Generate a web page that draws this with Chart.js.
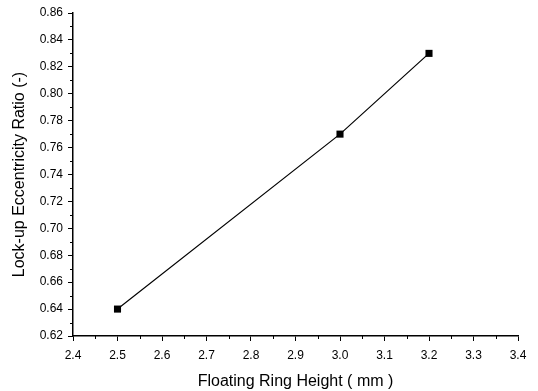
<!DOCTYPE html>
<html>
<head>
<meta charset="utf-8">
<script src="https://cdn.jsdelivr.net/npm/chart.js@4"></script>
<style>
  html, body { margin: 0; padding: 0; background: #fff; }
  #wrap { width: 538px; height: 391px; }
</style>
</head>
<body>
<div id="wrap"><canvas id="lockupChart" width="538" height="391"></canvas></div>
<script>
// values
const ringHeight = [2.5, 3.0, 3.2];
const eccentricity = [0.64, 0.77, 0.83];
const xTicks = [2.4, 2.5, 2.6, 2.7, 2.8, 2.9, 3.0, 3.1, 3.2, 3.3, 3.4];
const yTicks = [0.62, 0.64, 0.66, 0.68, 0.70, 0.72, 0.74, 0.76, 0.78, 0.80, 0.82, 0.84, 0.86];

const fontFamily = 'Arial, "Liberation Sans", sans-serif';

// small ticks halfway between the labelled ones
const minorTicks = {
    id: 'minorTicks',
    afterDraw(chart) {
        const ctx = chart.ctx;
        const xs = chart.scales.x;
        const ys = chart.scales.y;
        ctx.save();
        ctx.strokeStyle = '#000';
        ctx.lineWidth = 1;
        ctx.beginPath();
        for (let i = 0; i < xTicks.length - 1; i++) {
            const px = Math.round(xs.getPixelForValue((xTicks[i] + xTicks[i + 1]) / 2)) + 0.5;
            ctx.moveTo(px, xs.top);
            ctx.lineTo(px, xs.top + 3);
        }
        for (let i = 0; i < yTicks.length - 1; i++) {
            const py = Math.round(ys.getPixelForValue((yTicks[i] + yTicks[i + 1]) / 2)) + 0.5;
            ctx.moveTo(ys.right, py);
            ctx.lineTo(ys.right - 3, py);
        }
        ctx.stroke();
        ctx.restore();
    }
};

const ctx = document.getElementById('lockupChart').getContext('2d');
const chart = new Chart(ctx, {
    type: 'scatter',
    data: {
        datasets: [{
            data: ringHeight.map((x, i) => ({ x: x, y: eccentricity[i] })),
            showLine: true,
            borderColor: '#000',
            borderWidth: 1.2,
            backgroundColor: '#000',
            pointStyle: 'rect',
            pointRadius: 5,
            pointBorderWidth: 0,
            fill: false
        }]
    },
    options: {
        responsive: false,
        animation: false,
        layout: { padding: { left: 0, top: 13, right: 20, bottom: 0 } },
        plugins: {
            legend: { display: false },
            tooltip: { enabled: false }
        },
        scales: {
            x: {
                type: 'linear',
                min: 2.4,
                max: 3.4,
                afterFit: (scale) => { scale.height = 55; },
                afterBuildTicks: (scale) => { scale.ticks = xTicks.map(v => ({ value: v })); },
                grid: { drawOnChartArea: false, tickLength: 5, color: '#000', tickColor: '#000' },
                border: { color: '#000', width: 1.5 },
                ticks: {
                    color: '#000',
                    padding: 7,
                    maxRotation: 0,
                    font: { family: fontFamily, size: 12 },
                    callback: (v) => v.toFixed(1)
                },
                title: {
                    display: true,
                    text: 'Floating Ring Height ( mm )',
                    color: '#000',
                    font: { family: fontFamily, size: 16 },
                    padding: { top: 2, bottom: 0 }
                }
            },
            y: {
                type: 'linear',
                min: 0.62,
                max: 0.86,
                afterFit: (scale) => { scale.width = 73; },
                afterBuildTicks: (scale) => { scale.ticks = yTicks.map(v => ({ value: v })); },
                grid: { drawOnChartArea: false, tickLength: 5, color: '#000', tickColor: '#000' },
                border: { color: '#000', width: 1.5 },
                ticks: {
                    color: '#000',
                    padding: 5,
                    font: { family: fontFamily, size: 12 },
                    callback: (v) => v.toFixed(2)
                },
                title: {
                    display: true,
                    text: 'Lock-up Eccentricity Ratio (-)',
                    color: '#000',
                    font: { family: fontFamily, size: 16 },
                    padding: { top: 10, bottom: 0 }
                }
            }
        }
    },
    plugins: [minorTicks]
});
</script>
</body>
</html>
